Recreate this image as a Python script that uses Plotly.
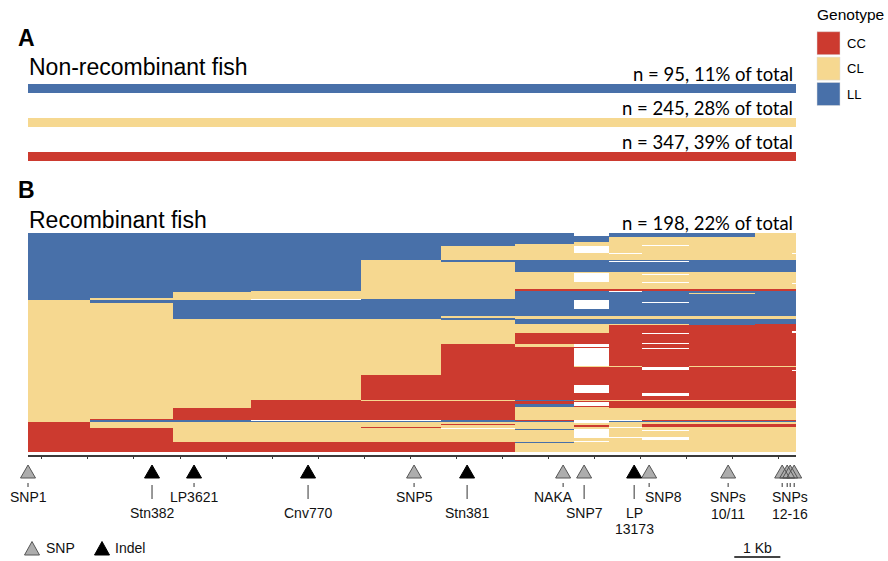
import plotly.graph_objects as go
import numpy as np

W, H = 888, 561

# ---------------- data ----------------
genotypes = ["CC", "CL", "LL"]
genotype_colors = {"CC": "#CC3A2F", "CL": "#F6D890", "LL": "#4870A9"}

nonrec_genotype = ["LL", "CL", "CC"]
nonrec_n = [95, 245, 347]
nonrec_pct = [11, 28, 39]
rec_n = 198
rec_pct = 22

region_kb = 16.67          # length of the displayed region (kb)
axis_tick0_kb = 0.30       # first 1-kb tick
scalebar_kb = 1.0
scalebar_start_kb = 15.33

marker_names = ["SNP1", "Stn382", "LP3621", "Cnv770", "SNP5", "Stn381", "NAKA", "SNP7",
                "LP13173", "SNP8", "SNP10/11", "SNP12", "SNP13", "SNP14", "SNP15/16"]
marker_kb = [0.00, 2.692, 3.604, 6.079, 8.380, 9.531, 11.615, 12.071,
             13.157, 13.482, 15.197, 16.370, 16.479, 16.544, 16.631]
marker_kind = ["SNP", "Indel", "Indel", "Indel", "SNP", "Indel", "SNP", "SNP",
               "Indel", "SNP", "SNP", "SNP", "SNP", "SNP", "SNP"]
marker_tier = [1, 2, 1, 2, 1, 2, 1, 2, 2, 1, 1, 1, 1, 1, 1]

label_line1 = ["SNP1", "Stn382", "LP3621", "Cnv770", "SNP5", "Stn381", "NAKA", "SNP7",
               "LP", "SNP8", "SNPs", "SNPs"]
label_line2 = ["", "", "", "", "", "", "", "", "13173", "", "10/11", "12-16"]
label_kb = [0.00, 2.692, 3.604, 6.079, 8.380, 9.531, 11.615, 12.071,
            13.157, 13.482, 15.197, 16.544]
label_tier = [1, 2, 1, 2, 1, 2, 1, 2, 2, 1, 1, 1]
label_shift_px = [0, 0, 0, 0, 0, 0, -10, 0, 0, 14, 0, 0]

# genotype runs (top to bottom) of the 198 recombinant fish, per marker column
runs_SNP1 = [("LL", 61), ("CL", 110), ("CC", 27)]
runs_Stn382 = [("LL", 59), ("CL", 2), ("LL", 2), ("CL", 105), ("CC", 1), ("LL", 2), ("CL", 5), ("CC", 22)]
runs_LP3621 = [("LL", 53), ("CL", 8), ("LL", 17), ("CL", 80), ("CC", 11), ("LL", 2), ("CL", 18), ("CC", 9)]
runs_Cnv770 = [("LL", 52), ("CL", 8), ("NA", 1), ("LL", 17), ("CL", 73), ("CC", 18), ("NA", 1), ("LL", 1),
               ("CL", 18), ("CC", 9)]
runs_SNP5 = [("LL", 24), ("CL", 36), ("LL", 18), ("CL", 50), ("CC", 23), ("CL", 1), ("CC", 17), ("NA", 1),
             ("LL", 1), ("CL", 4), ("CC", 1), ("CL", 13), ("CC", 9)]
runs_Stn381 = [("LL", 12), ("CL", 12), ("LL", 2), ("CL", 34), ("LL", 15), ("CL", 2), ("LL", 2), ("CL", 21),
               ("CC", 51), ("CL", 1), ("CC", 17), ("LL", 2), ("CL", 2), ("CC", 1), ("CL", 2), ("NA", 1),
               ("CL", 12), ("CC", 9)]
runs_NAKA = [("LL", 10), ("CL", 14), ("LL", 11), ("CL", 16), ("CC", 1), ("LL", 23), ("CL", 3), ("LL", 4),
             ("CL", 8), ("CC", 10), ("CL", 3), ("CC", 48), ("LL", 1), ("CC", 3), ("LL", 2), ("CL", 12),
             ("CC", 1), ("LL", 1), ("CL", 6), ("LL", 1), ("CL", 11), ("LL", 1), ("CL", 8)]
runs_SNP7 = [("NA", 3), ("LL", 5), ("CL", 4), ("NA", 6), ("CL", 6), ("LL", 11), ("CL", 1), ("NA", 8),
             ("CL", 7), ("CC", 1), ("LL", 9), ("NA", 8), ("LL", 6), ("CL", 3), ("LL", 4), ("CL", 8),
             ("CC", 10), ("NA", 3), ("CC", 1), ("NA", 16), ("CL", 1), ("CC", 16), ("NA", 8), ("CC", 6),
             ("CL", 1), ("CC", 1), ("NA", 3), ("CC", 1), ("CL", 12), ("NA", 3), ("CL", 2), ("CC", 1),
             ("CL", 2), ("NA", 8), ("CL", 3), ("NA", 1), ("CL", 9)]
runs_LP13173 = [("LL", 4), ("CL", 14), ("NA", 1), ("CL", 5), ("LL", 1), ("NA", 1), ("LL", 9), ("CL", 16),
                ("CC", 1), ("NA", 1), ("LL", 22), ("CL", 3), ("LL", 4), ("CL", 1), ("CC", 37), ("CL", 1),
                ("CC", 30), ("CL", 1), ("CC", 6), ("CL", 11), ("NA", 1), ("LL", 1), ("CL", 4), ("NA", 1),
                ("CL", 8), ("NA", 1), ("CL", 13)]
runs_SNP8 = [("LL", 4), ("CL", 7), ("NA", 1), ("CL", 12), ("LL", 1), ("NA", 1), ("LL", 9), ("CL", 2),
             ("NA", 1), ("CL", 6), ("NA", 1), ("CL", 6), ("CC", 1), ("LL", 10), ("NA", 1), ("LL", 12),
             ("CL", 3), ("LL", 4), ("CL", 1), ("CC", 7), ("NA", 1), ("CC", 8), ("NA", 1), ("CC", 4),
             ("NA", 1), ("CC", 16), ("NA", 3), ("CC", 21), ("NA", 2), ("CC", 4), ("CL", 1), ("CC", 6),
             ("CL", 11), ("CC", 1), ("LL", 1), ("CL", 2), ("CC", 2), ("CL", 3), ("NA", 1), ("CL", 5),
             ("NA", 3), ("CL", 11)]
runs_SNP10_11 = [("LL", 4), ("CL", 20), ("LL", 11), ("CL", 16), ("CC", 1), ("LL", 2), ("CL", 1), ("LL", 20),
                 ("CL", 3), ("LL", 5), ("CC", 37), ("CL", 1), ("CC", 30), ("CL", 1), ("CC", 6), ("CL", 11),
                 ("CC", 1), ("LL", 1), ("CL", 2), ("CC", 2), ("CL", 23)]
runs_SNP12 = [("CL", 24), ("LL", 11), ("CL", 16), ("CC", 1), ("LL", 23), ("CL", 3), ("LL", 4), ("CC", 38),
              ("CL", 1), ("CC", 30), ("CL", 1), ("CC", 6), ("CL", 11), ("CC", 1), ("LL", 1), ("CL", 2),
              ("CC", 2), ("CL", 23)]
runs_SNP13 = list(runs_SNP12)
runs_SNP14 = list(runs_SNP12)
runs_SNP15_16 = [("CL", 18), ("NA", 1), ("CL", 5), ("LL", 11), ("CL", 10), ("NA", 1), ("CL", 5), ("CC", 1),
                 ("LL", 23), ("CL", 3), ("LL", 4), ("CC", 7), ("NA", 1), ("CC", 30), ("CL", 1), ("CC", 3),
                 ("NA", 1), ("CC", 26), ("CL", 1), ("CC", 6), ("CL", 11), ("CC", 1), ("LL", 1), ("CL", 2),
                 ("CC", 2), ("CL", 23)]

column_runs = [runs_SNP1, runs_Stn382, runs_LP3621, runs_Cnv770, runs_SNP5, runs_Stn381, runs_NAKA,
               runs_SNP7, runs_LP13173, runs_SNP8, runs_SNP10_11, runs_SNP12, runs_SNP13, runs_SNP14,
               runs_SNP15_16]

# ---------------- build matrix ----------------
code = {"CC": 0, "CL": 1, "LL": 2, "NA": np.nan}
z = np.full((rec_n, len(column_runs)), np.nan)
for c, runs in enumerate(column_runs):
    col = []
    for g, n in runs:
        col += [code[g]] * n
    col = (col + [np.nan] * rec_n)[:rec_n]
    z[:, c] = col

# ---------------- geometry helpers ----------------
PL, PR = 28, 796          # plot left/right in px


def fx(px):
    return px / W


def fy(py):
    return 1 - py / H


kb_per_px = region_kb / (PR - PL)
track_range = [-PL * kb_per_px, region_kb + (W - PR) * kb_per_px]   # same kb scale, full width

FONT = "Liberation Sans, Arial, Helvetica, sans-serif"
NFONT = "Lato, Open Sans, sans-serif"

fig = go.Figure()

# Panel A bars
fig.add_trace(go.Bar(
    y=list(range(len(nonrec_genotype))), x=[region_kb] * len(nonrec_genotype), base=0,
    orientation="h", width=9 / 34,
    marker=dict(color=[genotype_colors[g] for g in nonrec_genotype], line=dict(width=0)),
    xaxis="x2", yaxis="y2", hoverinfo="skip"))

# Panel B heatmap
cs = [[0, genotype_colors["CC"]], [1 / 3, genotype_colors["CC"]],
      [1 / 3, genotype_colors["CL"]], [2 / 3, genotype_colors["CL"]],
      [2 / 3, genotype_colors["LL"]], [1, genotype_colors["LL"]]]
fig.add_trace(go.Heatmap(
    z=z, x=marker_kb, y=list(range(rec_n)), zmin=0, zmax=2, colorscale=cs,
    showscale=False, xaxis="x", yaxis="y", hoverinfo="skip"))

# marker triangles (track axis x3/y3 shares the kb scale)
hw = 7.5 * kb_per_px
for kind, fill, edge in [("SNP", "#ADADAD", "#555555"), ("Indel", "#000000", "#000000")]:
    xs, ys = [], []
    for p, k in zip(marker_kb, marker_kind):
        if k != kind:
            continue
        xs += [p - hw, p + hw, p, p - hw, None]
        ys += [478, 478, 465, 478, None]
    fig.add_trace(go.Scatter(x=xs, y=ys, mode="lines", fill="toself", fillcolor=fill,
                             line=dict(color=edge, width=1), xaxis="x3", yaxis="y3",
                             cliponaxis=False, hoverinfo="skip"))

# label leader ticks
tx, ty = [], []
for p, t in zip(marker_kb, marker_tier):
    tx += [p, p, None]
    ty += ([483, 487, None] if t == 1 else [485, 499, None])
fig.add_trace(go.Scatter(x=tx, y=ty, mode="lines", line=dict(color="#333333", width=1),
                         xaxis="x3", yaxis="y3", cliponaxis=False, hoverinfo="skip"))

ann = []
for l1, l2, p, t, s in zip(label_line1, label_line2, label_kb, label_tier, label_shift_px):
    y1 = 497 if t == 1 else 512.5
    ann.append(dict(x=p, y=y1, xref="x3", yref="y3", text=l1, showarrow=False, xshift=s,
                    font=dict(family=FONT, size=14, color="#111")))
    if l2:
        ann.append(dict(x=p, y=y1 + 16.5, xref="x3", yref="y3", text=l2, showarrow=False, xshift=s,
                        font=dict(family=FONT, size=14, color="#111")))

# panel titles
ann.append(dict(x=fx(16), y=fy(38), xref="paper", yref="paper", text="<b>A</b>", showarrow=False,
                xanchor="left", yanchor="middle", font=dict(family=FONT, size=23, color="#000")))
ann.append(dict(x=fx(16), y=fy(190), xref="paper", yref="paper", text="<b>B</b>", showarrow=False,
                xanchor="left", yanchor="middle", font=dict(family=FONT, size=23, color="#000")))
ann.append(dict(x=fx(27), y=fy(67), xref="paper", yref="paper", text="Non-recombinant fish",
                showarrow=False, xanchor="left", yanchor="middle",
                font=dict(family=FONT, size=23, color="#000")))
ann.append(dict(x=fx(27), y=fy(220), xref="paper", yref="paper", text="Recombinant fish",
                showarrow=False, xanchor="left", yanchor="middle",
                font=dict(family=FONT, size=23, color="#000")))
for i, (n, pc) in enumerate(zip(nonrec_n, nonrec_pct)):
    ann.append(dict(x=fx(795), y=fy(74 + 34 * i), xref="paper", yref="paper",
                    text=f"n = {n}, {pc}% of total", showarrow=False, xanchor="right",
                    yanchor="middle", font=dict(family=NFONT, size=18.5, color="#000")))
ann.append(dict(x=fx(795), y=fy(223), xref="paper", yref="paper",
                text=f"n = {rec_n}, {rec_pct}% of total", showarrow=False, xanchor="right",
                yanchor="middle", font=dict(family=NFONT, size=18.5, color="#000")))

# genotype legend
shapes = []
ann.append(dict(x=fx(815), y=fy(15), xref="paper", yref="paper", text="Genotype", showarrow=False,
                xanchor="left", yanchor="middle", font=dict(family=FONT, size=15.5, color="#000")))
for i, g in enumerate(genotypes):
    top = 31.7 + 25.4 * i
    shapes.append(dict(type="rect", xref="paper", yref="paper", x0=fx(817), x1=fx(840),
                       y0=fy(top + 23), y1=fy(top), fillcolor=genotype_colors[g],
                       line=dict(width=0.5, color="#dddddd")))
    ann.append(dict(x=fx(845), y=fy(top + 11.5), xref="paper", yref="paper", text=g,
                    showarrow=False, xanchor="left", yanchor="middle",
                    font=dict(family=FONT, size=13, color="#000")))

# marker-type key
for cx, fill, edge, name, txt_x in [(32, "#ADADAD", "#555555", "SNP", 44),
                                    (102, "#000000", "#000000", "Indel", 113)]:
    path = (f"M {fx(cx - 7.5)},{fy(555)} L {fx(cx + 7.5)},{fy(555)} "
            f"L {fx(cx)},{fy(541.5)} Z")
    shapes.append(dict(type="path", xref="paper", yref="paper", path=path,
                       fillcolor=fill, line=dict(color=edge, width=1)))
    ann.append(dict(x=fx(txt_x), y=fy(548), xref="paper", yref="paper", text=name,
                    showarrow=False, xanchor="left", yanchor="middle",
                    font=dict(family=FONT, size=14, color="#111")))

# scale bar
shapes.append(dict(type="line", xref="x3", yref="y3", x0=scalebar_start_kb,
                   x1=scalebar_start_kb + scalebar_kb, y0=557, y1=557,
                   line=dict(color="#444444", width=2)))
ann.append(dict(x=scalebar_start_kb + scalebar_kb / 2, y=548, xref="x3", yref="y3",
                text=f"{scalebar_kb:g} Kb", showarrow=False,
                font=dict(family=FONT, size=14, color="#111")))

fig.update_layout(
    width=W, height=H, margin=dict(l=0, r=0, t=0, b=0),
    paper_bgcolor="white", plot_bgcolor="white", showlegend=False,
    xaxis=dict(domain=[fx(PL), fx(PR)], range=[0, region_kb], anchor="free",
               position=fy(455.5), showline=True, linecolor="#3a3a3a", linewidth=1.5,
               ticks="outside", ticklen=3, tickwidth=1, tickcolor="#3a3a3a",
               tick0=axis_tick0_kb, dtick=1, showticklabels=False, showgrid=False,
               zeroline=False),
    yaxis=dict(domain=[fy(452), fy(233)], range=[rec_n - 0.5, -0.5], visible=False,
               anchor="x"),
    xaxis2=dict(domain=[fx(PL), fx(PR)], range=[0, region_kb], visible=False, anchor="y2"),
    yaxis2=dict(domain=[fy(173.5), fy(71.5)], range=[2.5, -0.5], visible=False, anchor="x2"),
    xaxis3=dict(domain=[0, 1], range=track_range, visible=False, anchor="y3"),
    yaxis3=dict(domain=[0, fy(460)], range=[H, 460], visible=False, anchor="x3"),
    annotations=ann, shapes=shapes,
)

fig.write_html("out.html", config={"displayModeBar": False},
               post_script="document.body.style.margin='0';document.body.style.overflow='hidden';")
